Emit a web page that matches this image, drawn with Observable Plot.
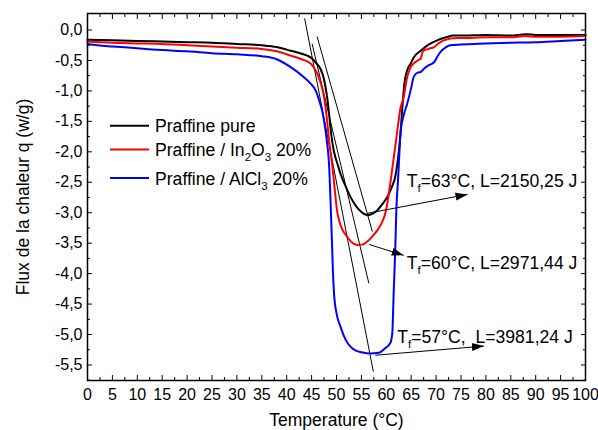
<!DOCTYPE html>
<html><head><meta charset="utf-8">
<script src="https://cdn.jsdelivr.net/npm/d3@7"></script>
<script src="https://cdn.jsdelivr.net/npm/@observablehq/plot@0.6"></script>
<style>
body{margin:0;background:#fff}
svg{font-family:"Liberation Sans",Arial,sans-serif;background:#fff}
</style>
</head><body><div id="chart"></div>
<script>
// ---- data (temperature °C, heat flux w/g) ----
const pureT = [0,5,10,15,20,25,30,35,38,40.8,43,44.8,46,46.8,47.4,47.8,48.2,48.5,49.0,49.5,50.2,50.8,51.8,52.8,54,55,56.2,57.2,58.2,59.2,60.2,61.2,61.8,62.2,62.5,62.8,63.2,63.6,64.2,64.9,65.5,66.9,68.5,70.2,72,73.5,75,80,85,88,90,95,100];
const pureQ = [-0.16,-0.17,-0.18,-0.19,-0.20,-0.21,-0.23,-0.25,-0.28,-0.34,-0.39,-0.45,-0.55,-0.64,-0.78,-0.94,-1.15,-1.37,-1.75,-2.0,-2.2,-2.36,-2.56,-2.74,-2.90,-2.99,-3.04,-3.02,-2.96,-2.86,-2.74,-2.56,-2.41,-2.2,-2.0,-1.75,-1.3,-0.9,-0.66,-0.55,-0.45,-0.34,-0.24,-0.17,-0.12,-0.09,-0.09,-0.08,-0.09,-0.07,-0.08,-0.08,-0.08];

const inT = [0,5,10,15,20,25,30,35,38,40.8,43,44.8,45.8,46.4,47,47.5,48.1,48.5,48.8,49.1,49.5,50.1,50.6,51.2,52.2,53,54.2,55.3,56.5,57.3,58.2,59,59.8,60.3,60.8,61.5,61.9,62.3,62.8,63.5,64,64.9,65.5,66.3,66.9,67.3,67.5,68.5,69.6,70.5,71.5,74.2,77,80,85,88,90,95,100];
const inQ = [-0.19,-0.21,-0.22,-0.23,-0.25,-0.27,-0.29,-0.31,-0.35,-0.42,-0.48,-0.55,-0.66,-0.77,-0.92,-1.10,-1.48,-1.81,-2.0,-2.19,-2.5,-2.96,-3.15,-3.28,-3.40,-3.48,-3.53,-3.52,-3.45,-3.38,-3.29,-3.18,-3.01,-2.8,-2.52,-2.09,-1.85,-1.6,-1.3,-1.10,-0.85,-0.61,-0.55,-0.50,-0.47,-0.36,-0.34,-0.31,-0.28,-0.22,-0.17,-0.13,-0.13,-0.12,-0.12,-0.10,-0.11,-0.11,-0.10];

const alT = [0,2,5,10,13,15,20,25,30,35,38,40.8,43.4,44.8,45.8,46.5,47.1,47.8,48.1,48.5,48.8,49.1,49.3,49.5,50,50.8,51.8,52.8,54,55,56.8,58.5,59.7,60.8,61.2,61.5,61.8,62.0,62.4,62.9,63.5,64.2,65,65.5,66.3,66.9,67.5,68.5,69.6,70.3,70.9,72,72.9,75,77.6,80,85,90,95,100];
const alQ = [-0.23,-0.25,-0.27,-0.30,-0.32,-0.33,-0.35,-0.38,-0.40,-0.43,-0.48,-0.61,-0.77,-0.88,-0.99,-1.15,-1.32,-1.65,-1.85,-2.2,-2.8,-3.5,-4.0,-4.32,-4.65,-4.87,-5.08,-5.20,-5.27,-5.29,-5.31,-5.30,-5.23,-5.14,-4.98,-4.27,-3.6,-3.0,-2.4,-1.65,-1.4,-1.21,-0.95,-0.77,-0.70,-0.69,-0.64,-0.58,-0.53,-0.43,-0.36,-0.28,-0.25,-0.24,-0.23,-0.22,-0.21,-0.20,-0.18,-0.16];

const seriesNames = ["Praffine pure", "Praffine / In2O3 20%", "Praffine / AlCl3 20%"];
const seriesColors = ["#000000", "#ff0000", "#0000ff"];

// tangent (onset) lines
const tanX1 = [43.6, 45.1, 46.1];
const tanY1 = [0.19, -0.226, -0.107];
const tanX2 = [57.4, 56.5, 57.2];
const tanY2 = [-5.61, -4.16, -3.31];

// annotation arrows
const arrX1 = [56.2, 56.5, 57.8];
const arrY1 = [-3.01, -3.52, -5.34];
const arrX2 = [76.3, 63.5, 79.6];
const arrY2 = [-2.70, -3.70, -5.19];

// annotation texts
const annX = [64.2, 64.2, 62.3];
const annY = [-2.59, -3.93, -5.14];
const annTf = ["63", "60", "57"];
const annL = ["2150,25", "2971,44", "3981,24"];
const annSep = [" ", " ", "  "];

// ticks
const xTicks = [0,5,10,15,20,25,30,35,40,45,50,55,60,65,70,75,80,85,90,95,100];
const yTicks = [0,-0.5,-1,-1.5,-2,-2.5,-3,-3.5,-4,-4.5,-5,-5.5];
const xMinor = d3.range(2.5, 100, 5);
const yMinor = d3.range(-0.25, -5.8, -0.5);
const yFmt = d => d.toFixed(1).replace(".", ",");

const rows = (T, Q, s) => T.map((t, i) => ({t, q: Q[i], s}));
const curves = [...rows(pureT, pureQ, 0), ...rows(inT, inQ, 1), ...rows(alT, alQ, 2)];
const tangents = tanX1.map((x, i) => ({x1: x, y1: tanY1[i], x2: tanX2[i], y2: tanY2[i]}));
const arrows = arrX1.map((x, i) => ({x1: x, y1: arrY1[i], x2: arrX2[i], y2: arrY2[i]}));

const chart = Plot.plot({
  width: 598, height: 430,
  marginLeft: 87, marginRight: 13, marginTop: 13, marginBottom: 50,
  x: {domain: [0, 100]},
  y: {domain: [-5.755, 0.271]},
  marks: [
    Plot.link(tangents, {x1: "x1", y1: "y1", x2: "x2", y2: "y2", stroke: "black", strokeWidth: 1}),
    Plot.line(curves, {x: "t", y: "q", z: "s", stroke: d => seriesColors[d.s], strokeWidth: 2, curve: "monotone-x"}),
    Plot.link(arrows, {x1: "x1", y1: "y1", x2: "x2", y2: "y2", stroke: "black", strokeWidth: 1, markerEnd: "arrow"}),
    Plot.frame({stroke: "black", strokeWidth: 1.5}),
    // bottom labels + ticks
    Plot.axisX(xTicks, {anchor: "bottom", tickSize: 0, tickPadding: 8.5, fontSize: 16, tickFormat: d => String(d), label: null}),
    Plot.axisX(xTicks, {anchor: "bottom", tickSize: -5, fill: "none", label: null}),
    Plot.axisX(xMinor, {anchor: "bottom", tickSize: -3, fill: "none", label: null}),
    Plot.axisX(xTicks, {anchor: "top", tickSize: -5, fill: "none", label: null}),
    Plot.axisX(xMinor, {anchor: "top", tickSize: -3, fill: "none", label: null}),
    // left labels + ticks
    Plot.axisY(yTicks, {anchor: "left", tickSize: 0, tickPadding: 5, fontSize: 16, tickFormat: yFmt, label: null}),
    Plot.axisY(yTicks, {anchor: "left", tickSize: -5, fill: "none", label: null}),
    Plot.axisY(yMinor, {anchor: "left", tickSize: -3, fill: "none", label: null}),
    Plot.axisY(yTicks, {anchor: "right", tickSize: -5, fill: "none", label: null}),
    Plot.axisY(yMinor, {anchor: "right", tickSize: -3, fill: "none", label: null}),
    Plot.text(["Temperature (°C)"], {frameAnchor: "bottom", dy: 40, lineAnchor: "middle", textAnchor: "middle", fontSize: 17.5, text: d => d}),
    Plot.text(["Flux de la chaleur q (w/g)"], {frameAnchor: "left", dx: -64, rotate: -90, lineAnchor: "middle", textAnchor: "middle", fontSize: 17.5, text: d => d})
  ]
});
document.getElementById("chart").appendChild(chart);

const svg = d3.select(chart);
const sx = chart.scale("x"), sy = chart.scale("y");

// filled arrowheads
const defs = svg.append("defs");
defs.append("marker").attr("id", "ahead")
  .attr("viewBox", "-12 -6 12 12").attr("markerWidth", 12).attr("markerHeight", 12)
  .attr("markerUnits", "userSpaceOnUse").attr("refX", 0).attr("refY", 0).attr("orient", "auto")
  .append("path").attr("d", "M-12,-4L0,0L-12,4Z").attr("fill", "black");
svg.selectAll("path[marker-end]").attr("marker-end", "url(#ahead)");

// annotations
const ag = svg.append("g").attr("font-size", 17.6).attr("fill", "black").attr("text-anchor", "start").style("white-space", "pre");
annX.forEach((x, i) => {
  const t = ag.append("text").attr("x", sx.apply(x)).attr("y", sy.apply(annY[i]));
  t.append("tspan").text("T");
  t.append("tspan").attr("font-size", 11.5).attr("dy", 5).text("f");
  t.append("tspan").attr("dy", -5).text(`=${annTf[i]}°C,${annSep[i]}L=${annL[i]} J`);
});

// legend
const lg = svg.append("g").attr("font-size", 17.6).attr("fill", "black").attr("text-anchor", "start");
const legY = [125.7, 149.5, 178];
const parts = [
  [["Praffine pure", 0]],
  [["Praffine / In", 0], ["2", 1], ["O", 0], ["3", 1], [" 20%", 0]],
  [["Praffine / AlCl", 0], ["3", 1], [" 20%", 0]]
];
seriesNames.forEach((name, i) => {
  lg.append("line").attr("x1", 110).attr("x2", 149).attr("y1", legY[i]).attr("y2", legY[i])
    .attr("stroke", seriesColors[i]).attr("stroke-width", 2);
  const t = lg.append("text").attr("x", 155).attr("y", legY[i] + 6.5).style("white-space", "pre");
  let low = false;
  parts[i].forEach(([s, sub]) => {
    const sp = t.append("tspan").text(s);
    if (sub && !low) { sp.attr("dy", 5).attr("font-size", 11.5); low = true; }
    else if (sub) { sp.attr("font-size", 11.5); }
    else if (!sub && low) { sp.attr("dy", -5); low = false; }
  });
});
</script>
</body></html>
